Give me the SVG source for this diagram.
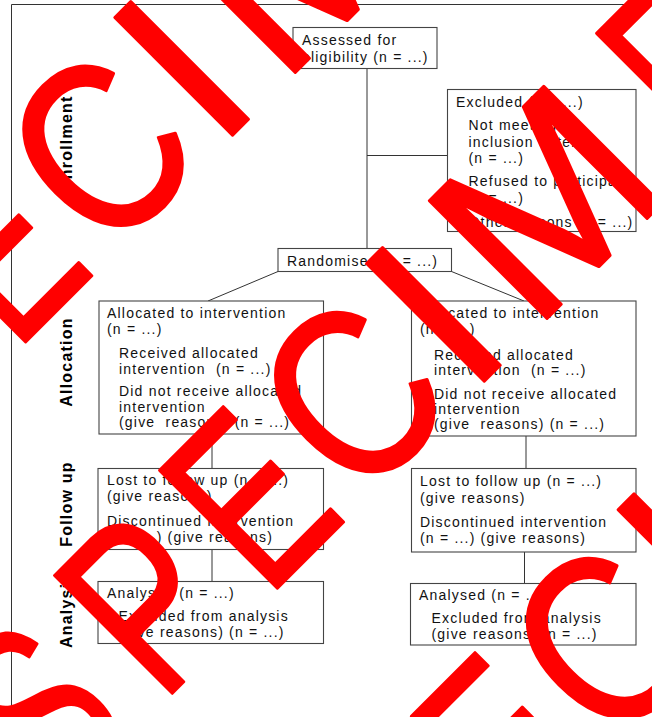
<svg xmlns="http://www.w3.org/2000/svg" xmlns:xlink="http://www.w3.org/1999/xlink" width="652" height="717" viewBox="0 0 652 717">
<style>
.box{fill:#fff;stroke:#444;stroke-width:1.1}
.ln{stroke:#333;stroke-width:1;fill:none}
.t{font-family:"Liberation Sans",Arial,Helvetica,sans-serif;font-size:14px;letter-spacing:1.2px;fill:#111}
.lab{font-family:"Liberation Sans",Arial,Helvetica,sans-serif;font-size:16px;font-weight:bold;letter-spacing:1.2px;fill:#000}
.wm{font-family:"Liberation Sans",Arial,Helvetica,sans-serif;font-size:242px;fill:#ff0000;stroke:#ff0000;stroke-width:3;stroke-linejoin:round}
</style>
<defs>
<g id="wm">
<text class="wm" transform="translate(-531,612) scale(0.70,1)">S</text>
<text class="wm" transform="translate(-383.5,612) scale(0.75,1)">P</text>
<text class="wm" transform="translate(-234.3,612) scale(0.72,1)">E</text>
<text class="wm" transform="translate(-103.5,612) scale(0.83,1)">C</text>
<text class="wm" transform="translate(50.4,612)">I</text>
<text class="wm" transform="translate(141.6,612)">M</text>
<text class="wm" transform="translate(383.7,612) scale(0.72,1)">E</text>
<text class="wm" transform="translate(520,612) scale(0.85,1)">N</text>
</g>
</defs>
<rect x="0" y="0" width="652" height="717" fill="#fff"/>
<path class="ln" d="M11.5,717 V4.5 H652" stroke="#000"/>
<g id="labels">
<text class="lab" text-anchor="end" transform="translate(71.5,95.5) rotate(-90)">Enrollment</text>
<text class="lab" text-anchor="middle" transform="translate(71.5,362) rotate(-90)">Allocation</text>
<text class="lab" text-anchor="middle" transform="translate(71.5,504) rotate(-90)">Follow up</text>
<text class="lab" text-anchor="start" transform="translate(71.5,648) rotate(-90)">Analysis</text>
</g>
<g id="connectors">
<path class="ln" d="M367,68.5 V248.5"/>
<path class="ln" d="M367,155.5 H447"/>
<path class="ln" d="M278,271.5 L208,301"/>
<path class="ln" d="M451.5,271.5 L524,301"/>
<path class="ln" d="M212,434 V468.5"/>
<path class="ln" d="M526,436 V468.5"/>
<path class="ln" d="M212,549.5 V581.5"/>
<path class="ln" d="M524.5,552 V583.5"/>
</g>
<g id="assessed">
<rect class="box" x="293" y="27.5" width="144" height="41"/>
<text class="t" x="302" y="45">Assessed for</text>
<text class="t" x="302" y="61.5">eligibility (n = ...)</text>
</g>
<g id="excluded">
<rect class="box" x="447.5" y="89.5" width="188.5" height="142"/>
<text class="t" x="456" y="106.5">Excluded (n = ...)</text>
<text class="t" x="468.5" y="130">Not meeting</text>
<text class="t" x="468.5" y="146.5">inclusion criteria</text>
<text class="t" x="468.5" y="163">(n = ...)</text>
<text class="t" x="468.5" y="186">Refused to participate</text>
<text class="t" x="468.5" y="202.5">(n = ...)</text>
<text class="t" x="468.5" y="227">Other reasons (n = ...)</text>
</g>
<g id="randomised">
<rect class="box" x="278" y="248.5" width="173.5" height="23"/>
<text class="t" x="287" y="265.5">Randomised (n = ...)</text>
</g>
<g id="alloc-left">
<rect class="box" x="99" y="301" width="224.5" height="133"/>
<text class="t" x="107" y="318">Allocated to intervention</text>
<text class="t" x="107" y="334">(n = ...)</text>
<text class="t" x="119" y="358">Received allocated</text>
<text class="t" x="119" y="373.5" xml:space="preserve">intervention  (n = ...)</text>
<text class="t" x="119" y="396">Did not receive allocated</text>
<text class="t" x="119" y="411.5">intervention</text>
<text class="t" x="119" y="426.5" xml:space="preserve">(give  reasons) (n = ...)</text>
</g>
<g id="alloc-right">
<rect class="box" x="411.5" y="301" width="224.5" height="135"/>
<text class="t" x="420" y="317.5">Allocated to intervention</text>
<text class="t" x="420" y="333.5">(n = ...)</text>
<text class="t" x="434" y="360">Received allocated</text>
<text class="t" x="434" y="375" xml:space="preserve">intervention  (n = ...)</text>
<text class="t" x="434" y="399">Did not receive allocated</text>
<text class="t" x="434" y="413.5">intervention</text>
<text class="t" x="434" y="428.5" xml:space="preserve">(give  reasons) (n = ...)</text>
</g>
<g id="followup-left">
<rect class="box" x="98" y="468.5" width="225.5" height="81"/>
<text class="t" x="107" y="485">Lost to follow up (n = ...)</text>
<text class="t" x="107" y="501">(give reasons)</text>
<text class="t" x="107" y="526">Discontinued intervention</text>
<text class="t" x="107" y="542">(n = ...) (give reasons)</text>
</g>
<g id="followup-right">
<rect class="box" x="411.5" y="468.5" width="224.5" height="83.5"/>
<text class="t" x="420" y="486">Lost to follow up (n = ...)</text>
<text class="t" x="420" y="502.5">(give reasons)</text>
<text class="t" x="420" y="527">Discontinued intervention</text>
<text class="t" x="420" y="543">(n = ...) (give reasons)</text>
</g>
<g id="analysis-left">
<rect class="box" x="98" y="581.5" width="225.5" height="62"/>
<text class="t" x="107" y="598">Analysed (n = ...)</text>
<text class="t" x="118.5" y="621">Excluded from analysis</text>
<text class="t" x="118.5" y="637">(give reasons) (n = ...)</text>
</g>
<g id="analysis-right">
<rect class="box" x="410.5" y="583.5" width="225.5" height="61.5"/>
<text class="t" x="419" y="600">Analysed (n = ...)</text>
<text class="t" x="431.5" y="623">Excluded from analysis</text>
<text class="t" x="431.5" y="638.5">(give reasons) (n = ...)</text>
</g>
<g id="watermark" transform="rotate(-45)">
<use xlink:href="#wm" href="#wm" transform="translate(-4,-352)"/>
<use xlink:href="#wm" href="#wm"/>
<use xlink:href="#wm" href="#wm" transform="translate(4,352)"/>
</g>
</svg>
